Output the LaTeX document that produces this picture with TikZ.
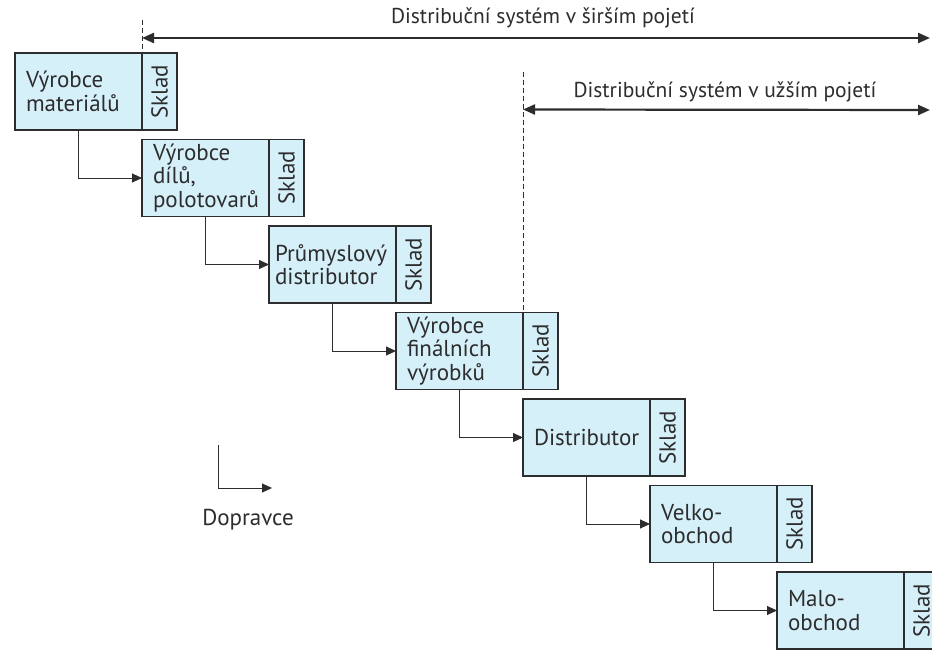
\documentclass[tikz,border=0pt]{standalone}
\usepackage{fontspec}
\setsansfont{PT Sans}
\usepackage{xcolor}
\usetikzlibrary{arrows.meta, positioning}
\definecolor{boxfill}{RGB}{214,240,250}
\definecolor{ink}{RGB}{45,45,45}
\newcommand{\boxfont}{\sffamily\fontsize{23}{23.5}\selectfont\hyphenpenalty=10000\relax}

\begin{document}
\begin{tikzpicture}[
    x=1pt, y=-1pt,
    every node/.style = {text=ink, font=\sffamily\fontsize{21.5}{23}\selectfont},
    box/.style = {rectangle, draw=ink, line width=1.6pt, outer sep=0pt, fill=boxfill, minimum height=77pt, text width=105pt, inner xsep=11pt, inner ysep=2pt, align=left, font=\boxfont},
    sklad/.style = {rectangle, draw=ink, line width=1.6pt, outer sep=0pt, fill=boxfill, minimum height=77pt, minimum width=35pt, inner sep=0pt, font=\sffamily\fontsize{23}{24}\selectfont},
    arrow/.style = {-{Triangle[length=10pt, width=9pt]}, line width=0.9pt, draw=ink},
    span/.style = {{Triangle[length=12pt, width=10pt]}-{Triangle[length=12pt, width=10pt]}, line width=2.2pt, draw=ink},
    guide/.style = {draw=ink, line width=0.8pt, dash pattern=on 5pt off 3pt}
]
    \useasboundingbox (0,0) rectangle (932,650);
    \fill[white] (0,0) rectangle (932,650);

    \node[box, anchor=north west] (vm) at (15,53) {Výrobce\\materiálů};
    \node[sklad, right=0pt of vm] (sk1) {\rotatebox{90}{Sklad}};
    \node[box, below=9.5pt of sk1.south west, anchor=north west] (vd) {Výrobce\\dílů,\\polotovarů};
    \node[sklad, right=0pt of vd] (sk2) {\rotatebox{90}{Sklad}};
    \node[box, inner xsep=6pt, text width=115pt, below=9.5pt of sk2.south west, anchor=north west] (pd) {Průmyslový\\distributor};
    \node[sklad, right=0pt of pd] (sk3) {\rotatebox{90}{Sklad}};
    \node[box, below=9.5pt of sk3.south west, anchor=north west] (vf) {Výrobce\\finálních\\výrobků};
    \node[sklad, right=0pt of vf] (sk4) {\rotatebox{90}{Sklad}};
    \node[box, below=9.5pt of sk4.south west, anchor=north west] (di) {Distributor};
    \node[sklad, right=0pt of di] (sk5) {\rotatebox{90}{Sklad}};
    \node[box, below=9.5pt of sk5.south west, anchor=north west] (vo) {Velko-\\obchod};
    \node[sklad, right=0pt of vo] (sk6) {\rotatebox{90}{Sklad}};
    \node[box, below=9.5pt of sk6.south west, anchor=north west] (mo) {Malo-\\obchod};
    \node[sklad, right=0pt of mo] (sk7) {\rotatebox{90}{Sklad}};

    % transport between the stages
    \draw[arrow] (vm.south) |- (vd.west);
    \draw[arrow] (vd.south) |- (pd.west);
    \draw[arrow] (pd.south) |- (vf.west);
    \draw[arrow] (vf.south) |- (di.west);
    \draw[arrow] (di.south) |- (vo.west);
    \draw[arrow] (vo.south) |- (mo.west);

    % wide and narrow span
    \coordinate (wideTop) at ([yshift=33pt]sk1.north west);
    \coordinate (wideL) at ([yshift=15pt]sk1.north west);
    \coordinate (wideR) at (930,38);
    \draw[guide] (wideTop) -- (sk1.north west);
    \draw[span] (wideL) -- (wideR);
    \node (wide) at (543,18) {Distribuční systém v širším pojetí};

    \coordinate (narrowTop) at ([yshift=240pt]sk4.north west);
    \coordinate (narrowL) at ([yshift=203pt]sk4.north west);
    \coordinate (narrowR) at (930,110);
    \draw[guide] (narrowTop) -- (sk4.north west);
    \draw[span] (narrowL) -- (narrowR);
    \node (narrow) at (725,92) {Distribuční systém v užším pojetí};

    % legend
    \coordinate (dopFrom) at (218,445);
    \coordinate (dopTo) at (272,488);
    \draw[arrow] (dopFrom) |- (dopTo);
    \node[font=\sffamily\fontsize{23}{24}\selectfont] (dop) at (248,520) {Dopravce};
\end{tikzpicture}
\end{document}
